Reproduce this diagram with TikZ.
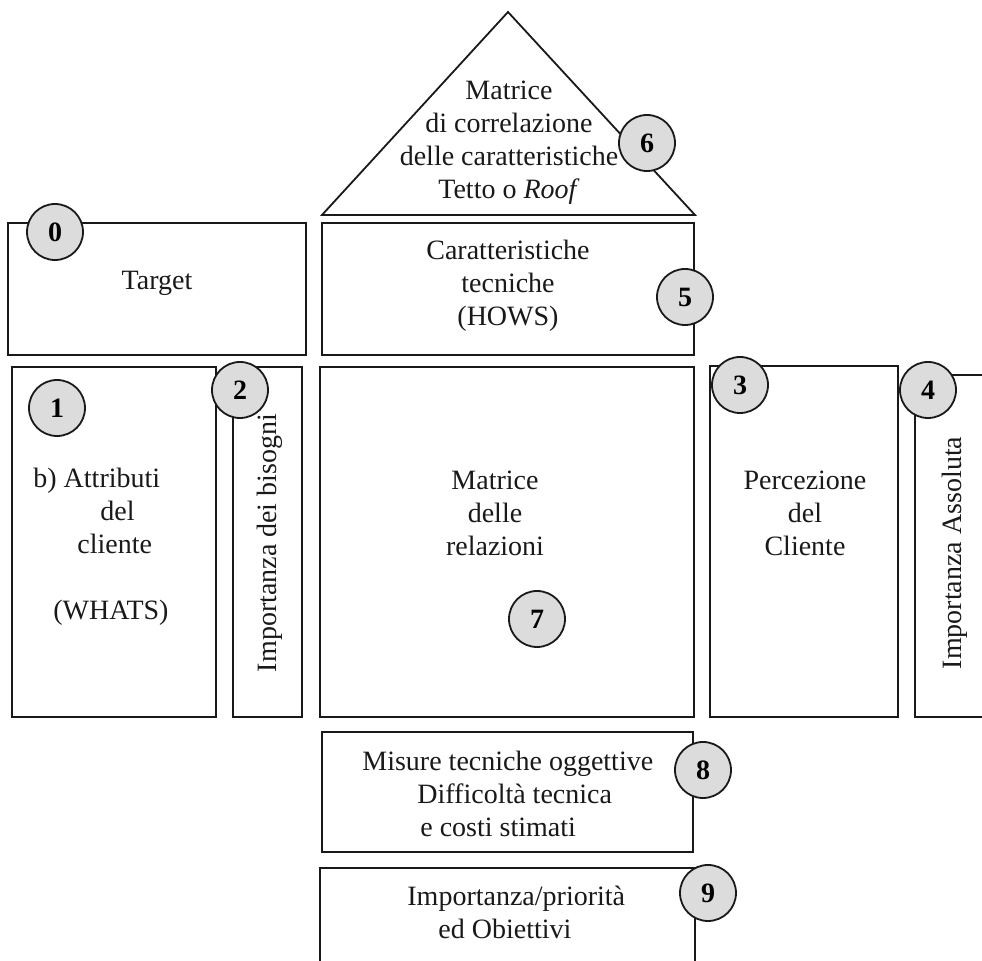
\documentclass[tikz,border=0pt]{standalone}
\usepackage{fontspec}
\setmainfont{Liberation Serif}
\usetikzlibrary{positioning}
\definecolor{colortext}{RGB}{25,25,25}
\definecolor{colornum} {RGB}{220,220,220}

\begin{document}
\begin{tikzpicture}[
    x=0.5pt, y=-0.5pt,
    font={\fontsize{14}{16.5}\selectfont},
    box/.style={draw=colortext,line width=0.9pt},
    txt/.style={text=colortext,align=center,inner sep=0pt},
    badge/.style={circle,draw=colortext,line width=0.9pt,fill=colornum,
        minimum size=28pt,inner sep=0pt,text=black,
        font={\fontsize{14}{16}\selectfont\bfseries}},
]
    \useasboundingbox (0,0) rectangle (982,961);
    \clip (0,0) rectangle (982,961);

    % roof
    \draw[box] (322,215) -- (508,12) -- (695,215) -- cycle;
    \node[txt] (roof) at (509,143) {Matrice\\di correlazione\\delle caratteristiche\\Tetto o \textit{Roof}};

    % top row
    \draw[box] (8,223) rectangle (306,355);
    \node[txt] (target) at (157,283) {Target};
    \draw[box] (322,223) rectangle (694,355);
    \node[txt] (hows) at (508,286) {Caratteristiche\\tecniche\\(HOWS)};

    % middle row
    \draw[box] (12,367) rectangle (216,717);
    \node[txt,align=left,anchor=west] (whats) at (33,547) {b) Attributi\\
    \hspace*{33.5pt}del\\
    \hspace*{22pt}cliente\\[16.5pt]
    \hspace*{10pt}(WHATS)};
    \draw[box] (233,367) rectangle (302,717);
    \node[txt,rotate=90] (bisogni) at (270,543) {Importanza dei bisogni};
    \draw[box] (320,367) rectangle (694,717);
    \node[txt] (relazioni) at (495,513) {Matrice\\delle\\relazioni};
    \draw[box] (710,366) rectangle (898,717);
    \node[txt] (cliente) at (805,513) {Percezione\\del\\Cliente};
    \draw[box] (915,375) rectangle (1000,717);
    \node[txt,rotate=90] (assoluta) at (955,553) {Importanza Assoluta};

    % bottom rows
    \draw[box] (322,732) rectangle (693,852);
    \node[txt,align=left,anchor=west] (misure) at (362,794) {Misure tecniche oggettive\\
    \hspace*{27.5pt}Difficoltà tecnica\\
    \hspace*{29pt}e costi stimati};
    \draw[box] (320,868) rectangle (695,1000);
    \node[txt,align=left,anchor=west] (obiettivi) at (407,912) {Importanza/priorità\\
    \hspace*{15.5pt}ed Obiettivi};

    % numbered circles
    \node[badge] (n0) at (55,232)  {0};
    \node[badge] (n1) at (57,408)  {1};
    \node[badge] (n2) at (240,390) {2};
    \node[badge] (n3) at (740,385) {3};
    \node[badge] (n4) at (928,390) {4};
    \node[badge] (n5) at (685,297) {5};
    \node[badge] (n6) at (647,143) {6};
    \node[badge] (n7) at (537,619) {7};
    \node[badge] (n8) at (703,770) {8};
    \node[badge] (n9) at (708,893) {9};

\end{tikzpicture}
\end{document}
